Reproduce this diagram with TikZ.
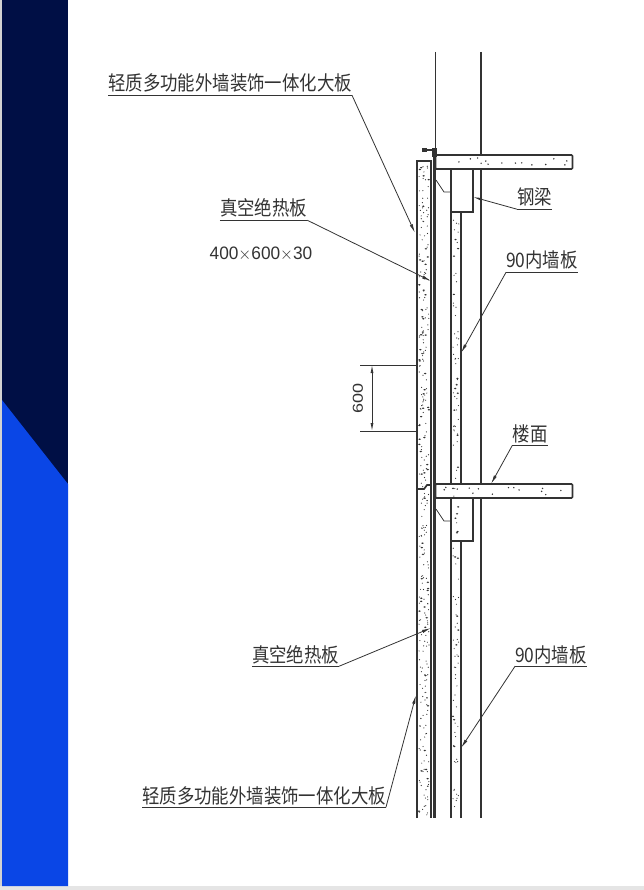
\documentclass[tikz,border=0pt]{standalone}
\usepackage{fontspec}
\newfontfamily\cjk{Noto Sans CJK SC}
\setmainfont{Liberation Sans}
\usetikzlibrary{arrows.meta}
\definecolor{navyband}{HTML}{000F45}
\definecolor{blueband}{HTML}{0A46E6}
\definecolor{cadline}{HTML}{333333}
\tikzset{
  cad/.style={draw=cadline,line width=1.7pt},
  thin cad/.style={draw=cadline,line width=.8pt},
  lbl/.style={font=\cjk\fontsize{20}{20}\selectfont,text=cadline,xscale=.87,inner xsep=0pt,inner ysep=2pt,text height=17pt,text depth=2pt},
  num/.style={font=\fontsize{18}{18}\selectfont,text=cadline,xscale=.8,inner sep=0pt},
  leader/.style={thin cad,-{Latex[length=9pt,width=3.2pt]}}
}
\begin{document}
\begin{tikzpicture}[x=1pt,y=-1pt]
  \useasboundingbox (0,0) rectangle (644,890);
  % background band
  \fill[gray!35] (0,0) rectangle (2,890);
  \fill[gray!20] (0,886) rectangle (644,890);
  \fill[navyband] (2,0) rectangle (68,886);
  \fill[blueband] (2,400) -- (68,484) -- (68,886) -- (2,886) -- cycle;

  % column lines
  \draw[cad] (435.5,52) -- (435.5,155);
  \draw[cad] (481,52) -- (481,155);
  \draw[cad] (481,169) -- (481,484);
  \draw[cad] (481,498) -- (481,818);

  % outer panels and insulation
  \draw[cad] (417,818) -- (417,161) -- (431,161) -- (431,818);
  \draw[cad] (417,489) -- (424,489) -- (427,485) -- (431,485);
  \draw[line width=3pt,cadline] (434.5,148) -- (434.5,818);
  \draw[cad] (424,150) -- (435,150);
  \fill[cadline] (421.5,148) rectangle (427,152);
  \fill[cadline] (432,148) rectangle (437,157);

  % slabs, beams, inner walls
  \foreach \y in {155,484}{
    \draw[cad,rounded corners=1pt] (435.5,\y) rectangle (572.5,\y+14);
    \draw[cad] (451,\y+14) rectangle (472.7,\y+57);
    \draw[thin cad] (436,\y+25) -- (444,\y+37) -- (451,\y+37);
  }
  \draw[line width=2.4pt,cadline] (435.5,169) -- (451,169);
  \draw[line width=2.4pt,cadline] (435.5,498) -- (451,498);
  \draw[cad] (451,212) -- (451,484);
  \draw[cad] (461,212) -- (461,484);
  \draw[cad] (451,541) -- (451,818);
  \draw[cad] (461,541) -- (461,818);

  % aggregate speckle
  \pgfmathsetseed{644}
  \foreach \i in {1,...,240}{
    \fill[cadline] (419+10*rnd,163+653*rnd) circle (.6pt);
  }
  \foreach \i in {1,...,60}{
    \fill[cadline] (419+10*rnd,163+653*rnd) ellipse (1.3pt and .8pt);
  }
  \foreach \i in {1,...,90}{
    \fill[cadline] (453+6*rnd,214+602*rnd) circle (.6pt);
  }
  \foreach \i in {1,...,25}{
    \fill[cadline] (453+6*rnd,214+602*rnd) ellipse (1.2pt and .8pt);
  }
  \foreach \i in {1,...,14}{
    \fill[cadline] (440+128*rnd,158+8*rnd) circle (.8pt);
    \fill[cadline] (440+128*rnd,487+8*rnd) circle (.8pt);
  }

  % dimension
  \coordinate (dimA) at (372,365);
  \coordinate (dimB) at (372,431);
  \coordinate (dimAl) at (360,365);
  \coordinate (dimAr) at (417,365);
  \coordinate (dimBl) at (360,431);
  \coordinate (dimBr) at (417,431);
  \draw[thin cad] (dimAl) -- (dimAr);
  \draw[thin cad] (dimBl) -- (dimBr);
  \draw[thin cad,{Latex[length=8pt,width=3pt]}-{Latex[length=8pt,width=3pt]}] (dimA) -- (dimB);
  \node[num,rotate=90] (dimtxt) at (358,398) {600};

  % labels
  \node[lbl] (bigA) at (230,83.5) {轻质多功能外墙装饰一体化大板};
  \node[lbl] (vipA) at (263.5,208.5) {真空绝热板};
  \node[num,xscale=1.2] (size) at (261,254) {400$\times$600$\times$30};
  \node[lbl] (beam) at (534.5,197.5) {钢梁};
  \node[lbl] (wallA) at (542,260.5) {90内墙板};
  \node[lbl] (floor) at (530,433.5) {楼面};
  \node[lbl] (vipB) at (295.5,654.5) {真空绝热板};
  \node[lbl] (wallB) at (551,654.5) {90内墙板};
  \node[lbl] (bigB) at (264,795.5) {轻质多功能外墙装饰一体化大板};

  \coordinate (tipbigA) at (415,233);
  \coordinate (tipvipA) at (431,281);
  \coordinate (tipbeam) at (473,197);
  \coordinate (tipwallA) at (461,353);
  \coordinate (tipfloor) at (491,484);
  \coordinate (tipvipB) at (431,628);
  \coordinate (tipwallB) at (461,748);
  \coordinate (tipbigB) at (416,695);

  \draw[thin cad] (bigA.south west) -- (bigA.south east);
  \draw[leader] (bigA.south east) -- (tipbigA);
  \draw[thin cad] (vipA.south west) -- (vipA.south east);
  \draw[leader] (vipA.south east) -- (tipvipA);
  \draw[thin cad] (beam.south east) -- (beam.south west);
  \draw[leader] (beam.south west) -- (tipbeam);
  \draw[thin cad] (wallA.south east) -- (wallA.south west);
  \draw[leader] (wallA.south west) -- (tipwallA);
  \draw[thin cad] (floor.south east) -- (floor.south west);
  \draw[leader] (floor.south west) -- (tipfloor);
  \draw[thin cad] (vipB.south west) -- (vipB.south east);
  \draw[leader] (vipB.south east) -- (tipvipB);
  \draw[thin cad] (wallB.south east) -- (wallB.south west);
  \draw[leader] (wallB.south west) -- (tipwallB);
  \draw[thin cad] (bigB.south west) -- (bigB.south east);
  \draw[leader] (bigB.south east) -- (tipbigB);
\end{tikzpicture}
\end{document}
